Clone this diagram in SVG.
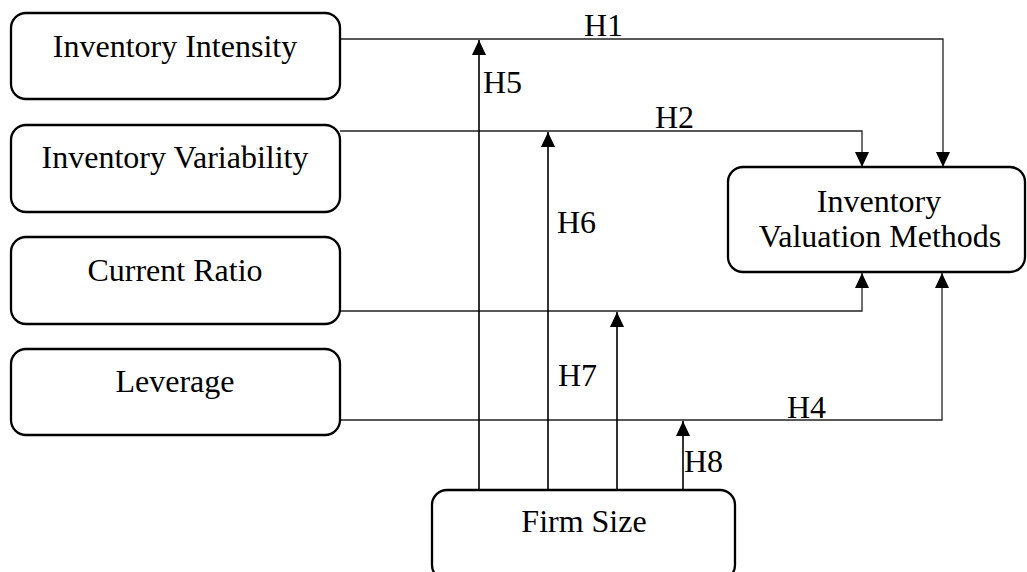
<svg xmlns="http://www.w3.org/2000/svg" width="1027" height="572" viewBox="0 0 1027 572">
<style>
.box{fill:#fff;stroke:#000;stroke-width:2.3}
.t{font-family:"Liberation Serif","Times New Roman",serif;font-size:32px;fill:#000;text-anchor:middle}
.l{font-family:"Liberation Serif","Times New Roman",serif;font-size:32px;fill:#000}
.c{fill:none;stroke:#222;stroke-width:1.3}
.v{fill:none;stroke:#000;stroke-width:1.6}
</style>
<defs>
<marker id="arr" viewBox="0 0 15 14" refX="15" refY="7" markerWidth="15" markerHeight="14" markerUnits="userSpaceOnUse" orient="auto">
<path d="M0,0 L15,7 L0,14 z" fill="#000"/>
</marker>
</defs>
<rect width="1027" height="572" fill="#fff"/>
<g id="connectors">
<path class="c" d="M340,39 H943 V167" marker-end="url(#arr)"/>
<path class="c" d="M340,131 H862 V167" marker-end="url(#arr)"/>
<path class="c" d="M340,311 H862 V273" marker-end="url(#arr)"/>
<path class="c" d="M340,420 H942 V273" marker-end="url(#arr)"/>
<path class="v" d="M479,490 V40" marker-end="url(#arr)"/>
<path class="v" d="M548,490 V132" marker-end="url(#arr)"/>
<path class="v" d="M617,490 V312" marker-end="url(#arr)"/>
<path class="v" d="M683,490 V421" marker-end="url(#arr)"/>
<text class="l" x="584" y="36">H1</text>
<text class="l" x="655" y="128">H2</text>
<text class="l" x="787" y="418">H4</text>
<text class="l" x="483" y="93">H5</text>
<text class="l" x="557" y="233">H6</text>
<text class="l" x="558" y="386">H7</text>
<text class="l" x="684" y="472">H8</text>
</g>
<g id="inventory-intensity">
<rect class="box" x="11" y="13" width="329" height="86" rx="15"/>
<text class="t" x="175" y="57">Inventory Intensity</text>
</g>
<g id="inventory-variability">
<rect class="box" x="11" y="125" width="329" height="87" rx="15"/>
<text class="t" x="175" y="168">Inventory Variability</text>
</g>
<g id="current-ratio">
<rect class="box" x="11" y="237" width="329" height="87" rx="15"/>
<text class="t" x="175" y="281">Current Ratio</text>
</g>
<g id="leverage">
<rect class="box" x="11" y="349" width="329" height="86" rx="15"/>
<text class="t" x="175" y="392">Leverage</text>
</g>
<g id="inventory-valuation-methods">
<rect class="box" x="728" y="167" width="297" height="105" rx="15"/>
<text class="t" x="879" y="212">Inventory</text>
<text class="t" x="880" y="247">Valuation Methods</text>
</g>
<g id="firm-size">
<rect class="box" x="432" y="490" width="303" height="90" rx="15"/>
<text class="t" x="584" y="532">Firm Size</text>
</g>
</svg>
